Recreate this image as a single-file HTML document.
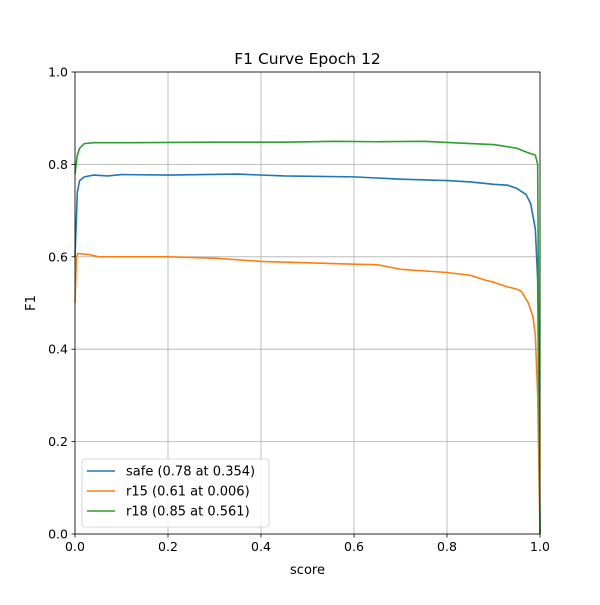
<!DOCTYPE html>
<html><head><meta charset="utf-8"><style>
body{margin:0;background:#fff}
svg{font-family:"DejaVu Sans","Liberation Sans",sans-serif}
</style></head><body>
<svg id="chart" width="600" height="600">
<rect width="600" height="600" fill="#fff"/>
<g id="grid"></g><g id="series"></g><g id="axes"></g>
</svg>
<script>
const tickValues=[0,0.2,0.4,0.6,0.8,1.0];
const tickLabels=["0.0","0.2","0.4","0.6","0.8","1.0"];
const seriesNames=["safe (0.78 at 0.354)","r15 (0.61 at 0.006)","r18 (0.85 at 0.561)"];
const seriesColors=["#1f77b4","#ff7f0e","#2ca02c"];
const safeX=[0,0.005,0.01,0.02,0.04,0.07,0.1,0.2,0.35,0.45,0.6,0.7,0.8,0.85,0.9,0.93,0.95,0.97,0.98,0.99,0.995,1.0];
const safeY=[0.6,0.74,0.765,0.773,0.777,0.775,0.778,0.777,0.779,0.775,0.773,0.768,0.765,0.762,0.757,0.755,0.748,0.735,0.715,0.66,0.55,0.0];
const r15X=[0,0.003,0.006,0.03,0.05,0.1,0.2,0.3,0.4,0.5,0.6,0.65,0.7,0.8,0.85,0.88,0.9,0.93,0.95,0.96,0.975,0.985,0.99,0.995,1.0];
const r15Y=[0.5,0.6,0.607,0.605,0.6,0.6,0.6,0.597,0.59,0.587,0.584,0.583,0.573,0.566,0.56,0.55,0.545,0.535,0.53,0.525,0.5,0.47,0.43,0.3,0.0];
const r18X=[0,0.005,0.01,0.02,0.04,0.1,0.3,0.45,0.561,0.65,0.75,0.85,0.9,0.95,0.975,0.99,0.995,1.0];
const r18Y=[0.78,0.82,0.835,0.845,0.847,0.847,0.848,0.848,0.85,0.849,0.85,0.845,0.843,0.835,0.825,0.82,0.8,0.0];
const L=75,R=540,T=72,B=534;
const sx=v=>L+v*(R-L), sy=v=>B-v*(B-T);
const NS="http://www.w3.org/2000/svg";
function mk(tag,attrs,parent,text){const e=document.createElementNS(NS,tag);for(const k in attrs)e.setAttribute(k,attrs[k]);if(text!==undefined)e.textContent=text;parent.appendChild(e);return e;}
const grid=document.getElementById('grid'),ser=document.getElementById('series'),ax=document.getElementById('axes');
tickValues.forEach((v,i)=>{
  const gx=mk('line',{x1:sx(v),x2:sx(v),y1:T,y2:B,stroke:'#b0b0b0','stroke-width':0.8},grid);
  
  
  const gy=mk('line',{x1:L,x2:R,y1:sy(v),y2:sy(v),stroke:'#b0b0b0','stroke-width':0.8},grid);
  
  
  mk('line',{x1:sx(v),x2:sx(v),y1:B,y2:B+3.5,stroke:'#000','stroke-width':0.8},ax);
  const xl=mk('text',{x:sx(v),y:B+17,'text-anchor':'middle','font-size':12.5},ax,tickLabels[i]);
  
  
  mk('line',{x1:L-3.5,x2:L,y1:sy(v),y2:sy(v),stroke:'#000','stroke-width':0.8},ax);
  const yl=mk('text',{x:L-7,y:sy(v)+4.5,'text-anchor':'end','font-size':12.5},ax,tickLabels[i]);
  
  
});
[[safeX,safeY],[r15X,r15Y],[r18X,r18Y]].forEach((s,i)=>{
  const d=s[0].map((x,j)=>(j?'L':'M')+sx(x).toFixed(2)+','+sy(s[1][j]).toFixed(2)).join('');
  const p=mk('path',{d:d,fill:'none',stroke:seriesColors[i],'stroke-width':1.6,'stroke-linejoin':'round'},ser);
  
  
});
const frame=mk('rect',{x:L,y:T,width:R-L,height:B-T,fill:'none',stroke:'#000','stroke-width':0.8},ax);


const title=mk('text',{x:(L+R)/2,y:64,'text-anchor':'middle','font-size':15.5},ax,'F1 Curve Epoch 12');


const xt=mk('text',{x:(L+R)/2,y:574,'text-anchor':'middle','font-size':13},ax,'score');


const yt=mk('text',{x:35,y:(T+B)/2,'text-anchor':'middle','font-size':13,transform:'rotate(-90 35 '+(T+B)/2+')'},ax,'F1');


const lg=mk('g',{},ax);


mk('rect',{x:82,y:459,width:187,height:68,rx:3,fill:'#fff','fill-opacity':0.8,stroke:'#ccc','stroke-width':0.8},lg);
seriesNames.forEach((n,i)=>{
  const y=471+i*20;
  const ent=mk('g',{},lg);
  
  
  mk('line',{x1:87,x2:115,y1:y,y2:y,stroke:seriesColors[i],'stroke-width':1.6},ent);
  mk('text',{x:126,y:y+4.5,'font-size':13},ent,n);
});
</script>
</body></html>
